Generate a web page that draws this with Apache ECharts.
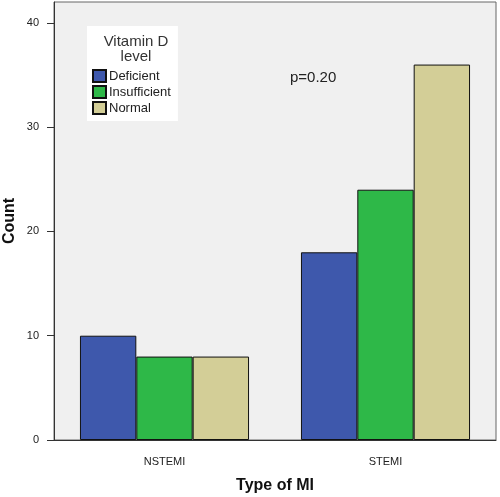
<!DOCTYPE html>
<html><head><meta charset="utf-8">
<script src="https://cdn.jsdelivr.net/npm/echarts@6/dist/echarts.min.js"></script>
<style>html,body{margin:0;padding:0;background:#fff}#c{width:500px;height:497px}</style>
</head><body><div id="c"></div>
<script>
const categories = ['NSTEMI', 'STEMI'];
const deficient = [10, 18];
const insufficient = [8, 24];
const normal = [8, 36];
const yTicks = [0, 10, 20, 30, 40];
const seriesNames = ['Deficient', 'Insufficient', 'Normal'];
const seriesColors = ['#3e58ac', '#2eb848', '#d3ce97'];
const seriesData = [deficient, insufficient, normal];

const chart = echarts.init(document.getElementById('c'));
const font = 'Arial, "Liberation Sans", sans-serif';
chart.setOption({
  animation: false,
  textStyle: { fontFamily: font },
  grid: { left: 54, top: 2, right: 4, bottom: 57, outerBoundsMode: 'none', containLabel: false,
    show: true, backgroundColor: '#f0f0f0', borderColor: '#666', borderWidth: 1 },
  title: [
    { text: 'Vitamin D\nlevel', left: 131, top: 29, textAlign: 'center',
      textStyle: { fontSize: 15, fontWeight: 'normal', color: '#333', fontFamily: font, lineHeight: 15 } },
    { text: 'p=0.20', left: 285, top: 65,
      textStyle: { fontSize: 15, fontWeight: 'normal', color: '#222', fontFamily: font } }
  ],
  legend: {
    orient: 'vertical', left: 87, top: 26,
    padding: [43, 7, 6, 5], backgroundColor: '#fff',
    icon: 'rect', itemWidth: 13, itemHeight: 12, itemGap: 2,
    textStyle: { fontSize: 13, color: '#222', fontFamily: font, padding: [0, 0, 0, -2] },
    data: seriesNames
  },
  xAxis: {
    type: 'category', data: categories,
    name: 'Type of MI', nameLocation: 'middle', nameGap: 38, nameMoveOverlap: false,
    nameTextStyle: { fontSize: 16, fontWeight: 'bold', color: '#111', fontFamily: font },
    axisLine: { lineStyle: { color: '#333' } },
    axisTick: { alignWithLabel: true, length: 5, lineStyle: { color: '#333' } },
    axisLabel: { fontSize: 11, color: '#222', margin: 16 }
  },
  yAxis: {
    type: 'value', min: 0, max: 42,
    name: 'Count', nameLocation: 'middle', nameGap: 36, nameMoveOverlap: false,
    nameTextStyle: { fontSize: 16, fontWeight: 'bold', color: '#111', fontFamily: font },
    axisLine: { show: true, lineStyle: { color: '#333' } },
    axisTick: { show: true, length: 7, customValues: yTicks, lineStyle: { color: '#333' } },
    axisLabel: { customValues: yTicks, fontSize: 11, color: '#222', margin: 15 },
    splitLine: { show: false }
  },
  series: seriesNames.map((n, i) => ({
    name: n, type: 'bar', data: seriesData[i],
    barGap: '0%', barCategoryGap: '23.5%',
    itemStyle: { color: seriesColors[i], borderColor: '#111', borderWidth: 1 }
  }))
});
</script></body></html>
